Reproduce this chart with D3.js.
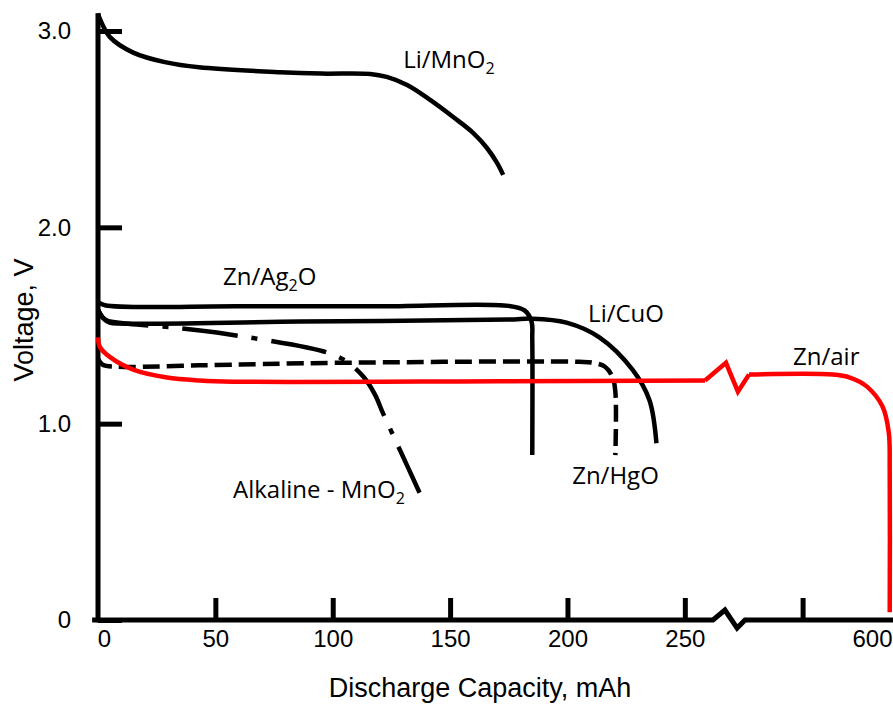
<!DOCTYPE html>
<html>
<head>
<meta charset="utf-8">
<script src="https://cdn.jsdelivr.net/npm/d3@7"></script>
<style>
  body { margin: 0; background: #fff; }
  svg { display: block; }
  .tick text { font-family: "Liberation Sans", Arial, sans-serif; font-size: 24px; fill: #000; }
  .lbl { font-family: "Open Sans", sans-serif; font-size: 24px; fill: #000; }
  .title { font-family: "Liberation Sans", Arial, sans-serif; font-size: 27px; fill: #000; }
</style>
</head>
<body>
<svg id="chart" width="893" height="704"></svg>
<script>
// capacity (mAh), voltage (V)
const liMnO2 = [[0,3.09],[0.85,3.06],[5,2.97],[15,2.89],[29,2.84],[43,2.815],[77.5,2.79],[95,2.783],[116,2.781],[123,2.766],[131.7,2.725],[141.5,2.649],[151.3,2.562],[159.8,2.481],[165.7,2.404],[170,2.328],[172.6,2.267]];
const znAg2O = [[0,1.62],[3,1.603],[60,1.598],[120,1.598],[175,1.6],[181.7,1.577],[184.7,1.52],[185,1.43],[185,0.84]];
const liCuO = [[0,1.58],[2,1.54],[5,1.515],[10,1.51],[86,1.52],[175,1.53],[185,1.535],[199.6,1.515],[213.6,1.44],[227.7,1.275],[234.9,1.12],[237.9,0.90]];
const znHgO = [[0,1.33],[2,1.30],[8,1.29],[43,1.297],[103,1.31],[205,1.315],[211,1.31],[216,1.29],[219.1,1.24],[220.4,1.163],[220.4,0.84]];
const alkaline = [[0,1.58],[3,1.53],[8,1.515],[32,1.49],[50.6,1.464],[89,1.388],[99,1.357],[106,1.316],[113,1.24],[118,1.148],[121.3,1.056],[127.2,0.903],[137,0.648]];
const znAirStart = [[0,1.44],[0.85,1.39],[5,1.34],[15,1.275],[29.4,1.235],[43.4,1.22],[57.4,1.214],[171,1.216],[258.6,1.22]];
const znAirBreak = [[258.6,1.22],[326,1.31],[385,1.163],[425.6,1.25]];
const znAirEnd = [[425.6,1.25],[542,1.25],[565.6,1.235],[589,1.19],[611,1.087],[619.7,0.954],[621,0.765],[621,0.04]];

const xAxisLine = [[-2.5,0],[262,0],[321,0.051],[381,-0.041],[420,0],[632,0]];
const yAxisLine = [[0,3.09],[0,-0.012]];

const xTickValues = [0,50,100,150,200,250,500,600];
const xTickLabels = ["0","50","100","150","200","250","","600"];
const yTickValues = [0,1,2,3];
const yTickLabels = ["0","1.0","2.0","3.0"];

const labelNames = [["Li/MnO","2"],["Zn/Ag","2","O"],["Li/CuO"],["Zn/air"],["Zn/HgO"],["Alkaline - MnO","2"]];
const labelAnchors = [[130,2.812],[53.3,1.706],[208.8,1.518],[486.7,1.299],[202,0.693],[57.5,0.621]];

const svg = d3.select("#chart");

// broken capacity axis: 0-262 linear, gap, then 420-620
const x = d3.scaleLinear().domain([0,262,420,620]).range([98,713,745,889]);
const y = d3.scaleLinear().domain([0,3]).range([620,31]);

const smooth = d3.line().x(d => x(d[0])).y(d => y(d[1])).curve(d3.curveCatmullRom.alpha(0.5));
const straight = d3.line().x(d => x(d[0])).y(d => y(d[1]));

// axis lines
svg.append("path").attr("d", straight(xAxisLine))
  .attr("fill", "none").attr("stroke", "#000").attr("stroke-width", 5).attr("stroke-linejoin", "miter");
svg.append("path").attr("d", straight(yAxisLine))
  .attr("fill", "none").attr("stroke", "#000").attr("stroke-width", 5);

const xAxis = svg.append("g")
  .attr("transform", `translate(0,${y(0)})`)
  .call(d3.axisBottom(x).tickValues(xTickValues).tickSize(-22).tickPadding(10)
    .tickFormat((d, i) => xTickLabels[i]));
xAxis.select(".domain").remove();
xAxis.selectAll(".tick line").attr("stroke-width", 5)
  .attr("display", d => (d === 0 || d === 600) ? "none" : null);
// nudge the end labels like the original
xAxis.selectAll(".tick text")
  .attr("dx", d => d === 0 ? 6 : 0)
  .attr("text-anchor", d => d === 600 ? "end" : "middle")
  .attr("x", d => d === 600 ? 892 - x(600) : 0);

const yAxis = svg.append("g")
  .attr("transform", `translate(${x(0)},0)`)
  .call(d3.axisLeft(y).tickValues(yTickValues).tickSize(-24).tickPadding(27)
    .tickFormat((d, i) => yTickLabels[i]));
yAxis.select(".domain").remove();
yAxis.selectAll(".tick line").attr("stroke-width", 5);

// curves
const curves = [
  { data: liMnO2, color: "#000", dash: null, gen: smooth },
  { data: znAg2O, color: "#000", dash: null, gen: smooth },
  { data: liCuO, color: "#000", dash: null, gen: smooth },
  { data: znHgO, color: "#000", dash: "17 7", gen: smooth },
  { data: alkaline, color: "#000", dash: "56 14 6 14", gen: smooth },
  { data: znAirStart, color: "#ff0000", dash: null, gen: smooth },
  { data: znAirBreak, color: "#ff0000", dash: null, gen: straight },
  { data: znAirEnd, color: "#ff0000", dash: null, gen: smooth }
];

svg.append("g").selectAll("path")
  .data(curves)
  .join("path")
  .attr("d", d => d.gen(d.data))
  .attr("fill", "none")
  .attr("stroke", d => d.color)
  .attr("stroke-width", 4.5)
  .attr("stroke-dasharray", d => d.dash);

// series labels with subscripts
const lbl = svg.append("g").selectAll("text")
  .data(labelNames)
  .join("text")
  .attr("class", "lbl")
  .attr("x", (d, i) => x(labelAnchors[i][0]))
  .attr("y", (d, i) => y(labelAnchors[i][1]));

lbl.each(function(parts) {
  const t = d3.select(this);
  parts.forEach((p, j) => {
    const isSub = j === 1;
    t.append("tspan")
      .attr("font-size", isSub ? 16 : null)
      .attr("dy", j === 0 ? 0 : (isSub ? 6 : -6))
      .text(p);
  });
});

// axis titles
svg.append("text").attr("class", "title")
  .attr("x", 480).attr("y", 697).attr("text-anchor", "middle")
  .text("Discharge Capacity, mAh");

svg.append("text").attr("class", "title")
  .attr("transform", "translate(33,320) rotate(-90)")
  .attr("text-anchor", "middle")
  .text("Voltage, V");
</script>
</body>
</html>
